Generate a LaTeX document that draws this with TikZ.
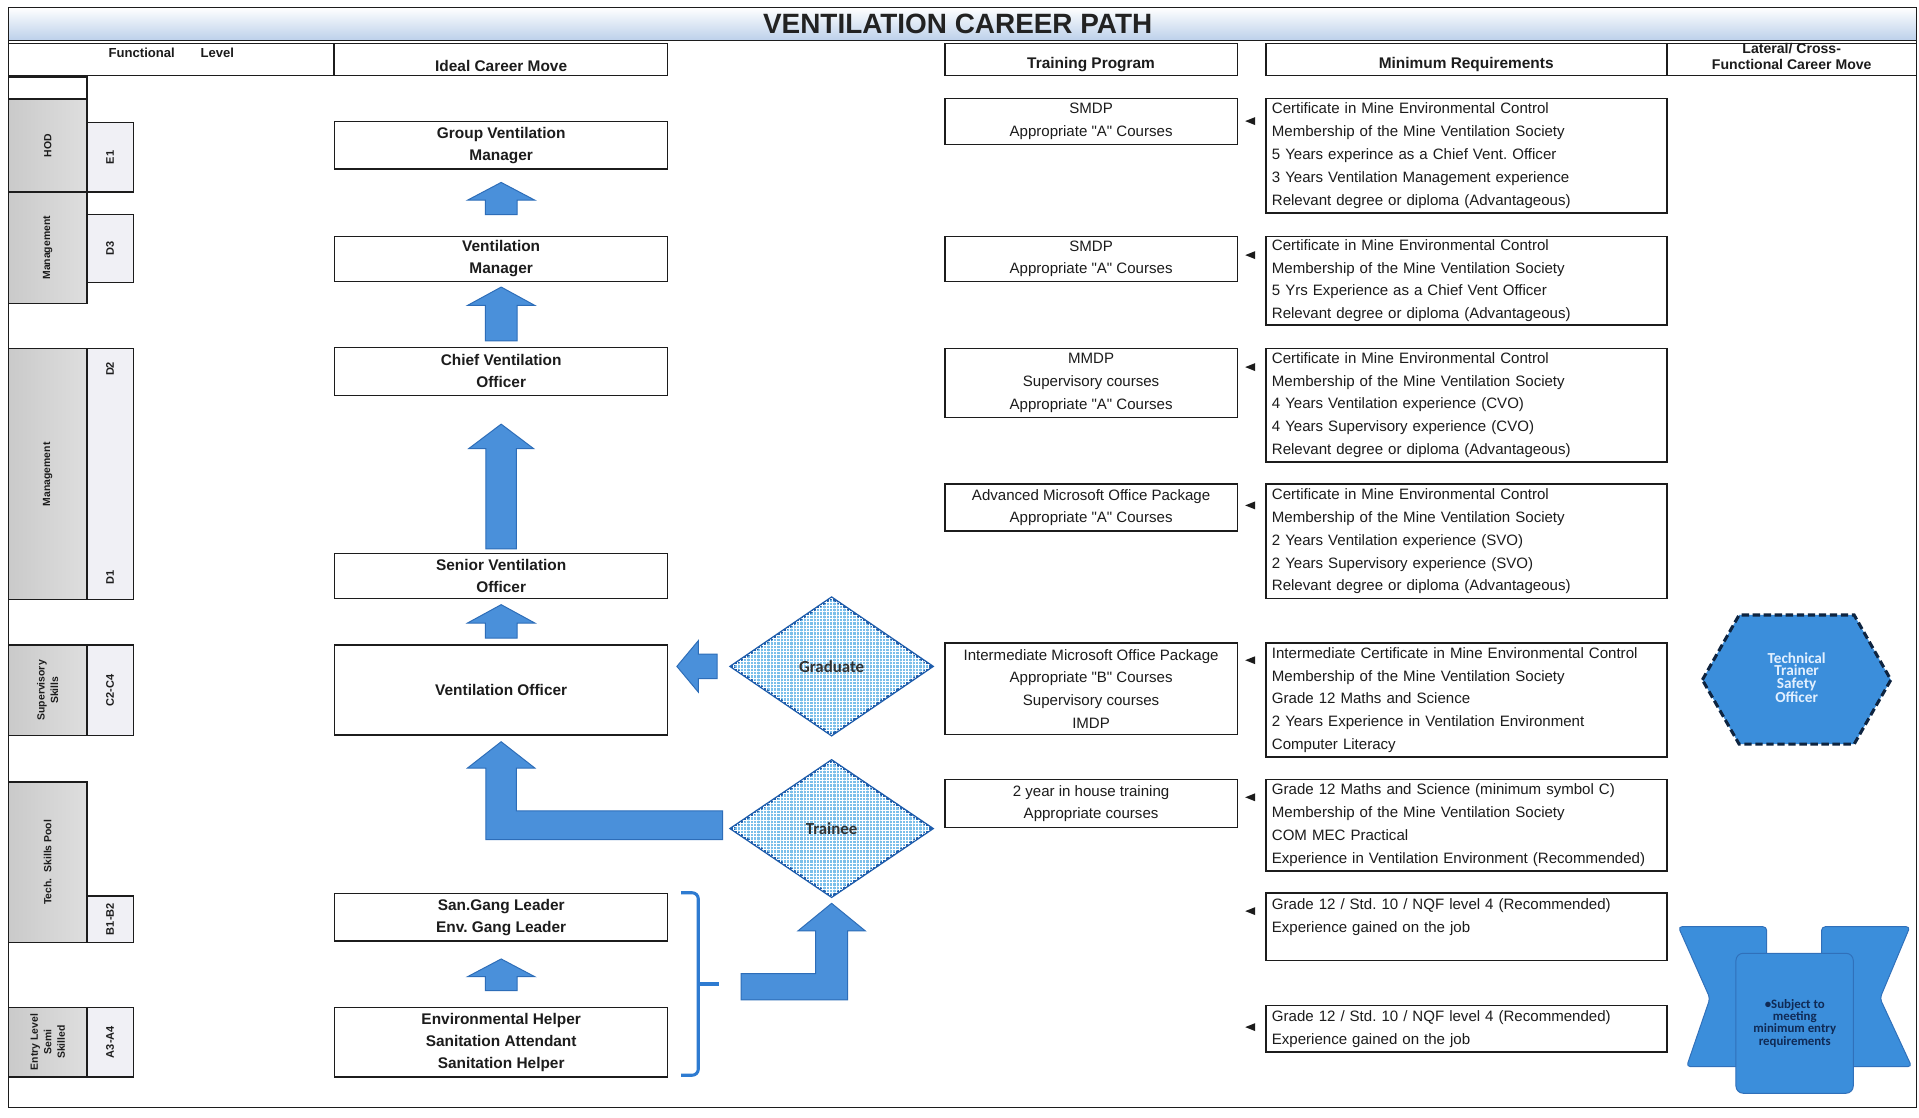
\documentclass[tikz,border=0pt]{standalone}
\usepackage{fontspec}
\setmainfont{Liberation Sans}
\newfontfamily\qfont{Liberation Sans}
\newfontfamily\shapefont{Carlito}
\usetikzlibrary{calc,shapes.geometric,patterns.meta}

\definecolor{ink}{HTML}{1C1C1C}
\definecolor{titleink}{HTML}{222222}
\definecolor{bandblue}{HTML}{BCD0EA}
\definecolor{greyL}{HTML}{CACACA}
\definecolor{greyR}{HTML}{DEDEDE}
\definecolor{levelfill}{HTML}{F0F0F5}
\definecolor{arrowblue}{HTML}{4A90DA}
\definecolor{arrowedge}{HTML}{2D6DB8}
\definecolor{diamondfill}{HTML}{7BBFEA}
\definecolor{diamondedge}{HTML}{1D5CAB}
\definecolor{shapeblue}{HTML}{3B8EDB}
\definecolor{shapeedge}{HTML}{3070BA}
\definecolor{navy}{HTML}{0E2440}
\definecolor{notenavy}{HTML}{102A55}
\definecolor{hexink}{HTML}{E2F0FF}
\definecolor{bracketblue}{HTML}{2E7BD1}
\definecolor{choiceink}{HTML}{333333}

% straight double quote, set without TeX ligature mapping
\newcommand\dq{{\qfont\symbol{34}}}

% rectangle node given by its corners: [options]{name}{x1}{y1}{x2}{y2}{text}
\newcommand\mkcell[7][]{%
  \node[#1, minimum width={(#5-#3)*1pt}, minimum height={(#6-#4)*1pt}] (#2) at ({(#3+#5)/2},{(#4+#6)/2}) {#7};}

% upward block arrow: tip, base, head length, head half width, shaft half width
\newcommand\blockup[5]{%
  \draw[blockarrow] (#1) -- ($(#1)+(#4,#3)$) -- ($(#1)+(#5,#3)$) -- ($(#1 |- #2)+(#5,0)$)
    -- ($(#1 |- #2)+(-#5,0)$) -- ($(#1)+(-#5,#3)$) -- ($(#1)+(-#4,#3)$) -- cycle;}

% small pointer left of a requirements box
\newcommand\reqmark[2]{\fill[ink] ($(#1.north west)+(-16.5,#2)$) -- ++(8,-3.2) -- ++(0,6.4) -- cycle;}

\newcommand\reqsize{\fontsize{12.3pt}{18.7pt}\selectfont}
\newcommand\tpsize{\fontsize{12.3pt}{18.5pt}\selectfont}
\newcommand\jobsize{\bfseries\fontsize{12.6pt}{18pt}\selectfont}
\newcommand\headsize{\bfseries\fontsize{12.6pt}{13pt}\selectfont}
\newcommand\lvlsize{\bfseries\fontsize{8.5pt}{11pt}\selectfont}
\newcommand\codesize{\bfseries\fontsize{9pt}{11pt}\selectfont}

\tikzset{
  frameline/.style={draw=ink, line width=1.3pt},
  plainbox/.style={draw=ink, line width=1.1pt, fill=white, inner sep=0pt},
  greycell/.style={draw=ink, line width=1.1pt, inner sep=0pt, left color=greyL, right color=greyR},
  levelcell/.style={plainbox, fill=levelfill},
  jobbox/.style={plainbox, align=center, font=\jobsize},
  tpbox/.style={plainbox, align=center, font=\tpsize},
  reqbox/.style={plainbox, align=left, font=\reqsize, text width=318pt},
  headtext/.style={font=\headsize, inner sep=0pt, align=center},
  lvltext/.style={font=\lvlsize, rotate=90, inner sep=0pt, align=center},
  codetext/.style={font=\codesize, rotate=90, inner sep=0pt},
  blockarrow/.style={fill=arrowblue, draw=arrowedge, line width=0.8pt, line join=miter},
  choice/.style={diamond, draw=diamondedge, line width=2.2pt, fill=diamondfill,
    postaction={pattern={Hatch[angle=0,distance=2.7pt,line width=0.5pt]}, pattern color=white},
    inner sep=0pt, font=\shapefont\bfseries\fontsize{13.8pt}{15pt}\selectfont, text=choiceink},
  bracket/.style={draw=bracketblue, line width=2.5pt, rounded corners=5pt},
  hexshape/.style={fill=shapeblue, draw=navy, line width=2.5pt, dash pattern=on 6pt off 3pt},
  hextext/.style={font=\shapefont\bfseries\fontsize{12.5pt}{10.2pt}\selectfont, text=hexink, align=center, inner sep=0pt},
  xshape/.style={fill=shapeblue, draw=shapeedge, line width=0.8pt, rounded corners=3pt},
  xtext/.style={font=\shapefont\bfseries\fontsize{10.5pt}{8.4pt}\selectfont, text=notenavy, align=center, inner sep=0pt}
}

\begin{document}
\frenchspacing
\begin{tikzpicture}[x=1pt, y=-1pt, every node/.style={text=ink}]
\useasboundingbox (0,0) rectangle (1568,913);
\fill[white] (0,0) rectangle (1568,913);

% title band and outer frame
\shade[top color=white, bottom color=bandblue] (7,6) rectangle (1566,33);
\draw[frameline] (7,6) rectangle (1566,905);
\draw[frameline] (7,33) -- (1566,33);
\node[font=\bfseries\fontsize{22.8pt}{24pt}\selectfont, text=titleink] (title) at (782.5,19.5) {VENTILATION CAREER PATH};

% column headers
\mkcell[plainbox]{flh}{7}{35.5}{273}{61.5}{}
\node[font=\bfseries\fontsize{10.7pt}{12pt}\selectfont, inner sep=0pt] (flt) at (140,43) {Functional\hspace{21pt}Level};
\mkcell[plainbox]{icm}{273}{35.5}{545.5}{61.5}{}
\node[headtext] (icmt) at (409.5,54) {Ideal Career Move};
\mkcell[plainbox]{tph}{772}{35.5}{1011}{61.5}{}
\node[headtext] (tpht) at (891.5,52.5) {Training Program};
\mkcell[plainbox]{mrh}{1034.5}{35.5}{1362}{61.5}{}
\node[headtext] (mrht) at (1198,53) {Minimum Requirements};
\mkcell[plainbox]{lat}{1362}{35.5}{1566}{61.5}{}
\node[headtext, font=\bfseries\fontsize{11.5pt}{13pt}\selectfont] (latt) at (1464,46.5) {Lateral/ Cross-\\Functional Career Move};

% functional levels
\mkcell[plainbox]{lv0}{7}{63}{71}{81}{}
\mkcell[greycell]{hod}{7}{81}{71}{157}{}
\mkcell[levelcell]{e1}{71}{100}{109}{157}{}
\mkcell[greycell]{mg1}{7}{157}{71}{248}{}
\mkcell[levelcell]{d3}{71}{175}{109}{231}{}
\mkcell[greycell]{mg2}{7}{285}{71}{490}{}
\mkcell[levelcell]{d21}{71}{285}{109}{490}{}
\mkcell[greycell]{sup}{7}{527}{71}{601}{}
\mkcell[levelcell]{c24}{71}{527}{109}{601}{}
\mkcell[greycell]{tsp}{7}{639}{71}{770}{}
\mkcell[levelcell]{b12}{71}{732}{109}{770}{}
\mkcell[greycell]{els}{7}{823}{71}{880}{}
\mkcell[levelcell]{a34}{71}{823}{109}{880}{}

\node[lvltext] (hodt) at (hod) {HOD};
\node[lvltext] (mg1t) at (mg1) {Management};
\node[lvltext] (mg2t) at (mg2) {Management};
\node[lvltext] (supt) at (sup) {Supervisory\\Skills};
\node[lvltext] (tspt) at (tsp) {Tech.\ \ Skills Pool};
\node[lvltext] (elst) at (els) {Entry Level\\Semi\\Skilled};
\node[codetext] (e1t) at (e1) {E1};
\node[codetext] (d3t) at (d3) {D3};
\node[codetext] (d2t) at ($(d21.north)+(0,17)$) {D2};
\node[codetext] (d1t) at ($(d21.south)+(0,-19)$) {D1};
\node[codetext] (c24t) at (c24) {C2-C4};
\node[codetext] (b12t) at (b12) {B1-B2};
\node[codetext] (a34t) at (a34) {A3-A4};

% ideal career moves
\mkcell[jobbox]{gvm}{273.5}{99.5}{545.5}{138}{Group Ventilation\\Manager}
\mkcell[jobbox]{vm}{273.5}{193}{545.5}{230}{Ventilation\\Manager}
\mkcell[jobbox]{cvo}{273.5}{284}{545.5}{323}{Chief Ventilation\\Officer}
\mkcell[jobbox]{svo}{273.5}{452}{545.5}{489}{Senior Ventilation\\Officer}
\mkcell[jobbox]{vo}{273.5}{527}{545.5}{600.5}{Ventilation Officer}
\mkcell[jobbox]{sgl}{273.5}{730}{545.5}{769}{San.Gang Leader\\Env. Gang Leader}
\mkcell[jobbox]{ent}{273.5}{823}{545.5}{880}{Environmental Helper\\Sanitation Attendant\\Sanitation Helper}

% training programmes
\mkcell[tpbox]{tp1}{772}{80.5}{1011}{118}{SMDP\\Appropriate \dq A\dq{} Courses}
\mkcell[tpbox]{tp2}{772}{193}{1011}{230}{SMDP\\Appropriate \dq A\dq{} Courses}
\mkcell[tpbox]{tp3}{772}{284.5}{1011}{341}{MMDP\\Supervisory courses\\Appropriate \dq A\dq{} Courses}
\mkcell[tpbox]{tp4}{772}{395.5}{1011}{434}{Advanced Microsoft Office Package\\Appropriate \dq A\dq{} Courses}
\mkcell[tpbox]{tp5}{772}{525.5}{1011}{600}{Intermediate Microsoft Office Package\\Appropriate \dq B\dq{} Courses\\Supervisory courses\\IMDP}
\mkcell[tpbox]{tp6}{772}{637}{1011}{676}{2 year in house training\\Appropriate courses}

% minimum requirements
\mkcell[reqbox]{r1}{1034.5}{80.5}{1362}{174}{Certificate in Mine Environmental Control\\Membership of the Mine Ventilation Society\\5 Years experince as a Chief Vent. Officer\\3 Years Ventilation Management experience\\Relevant degree or diploma (Advantageous)}
\mkcell[reqbox]{r2}{1034.5}{193}{1362}{265.5}{Certificate in Mine Environmental Control\\Membership of the Mine Ventilation Society\\5 Yrs Experience as a Chief Vent Officer\\Relevant degree or diploma (Advantageous)}
\mkcell[reqbox]{r3}{1034.5}{284.5}{1362}{377.5}{Certificate in Mine Environmental Control\\Membership of the Mine Ventilation Society\\4 Years Ventilation experience (CVO)\\4 Years Supervisory experience (CVO)\\Relevant degree or diploma (Advantageous)}
\mkcell[reqbox]{r4}{1034.5}{395.5}{1362}{489}{Certificate in Mine Environmental Control\\Membership of the Mine Ventilation Society\\2 Years Ventilation experience (SVO)\\2 Years Supervisory experience (SVO)\\Relevant degree or diploma (Advantageous)}
\mkcell[reqbox]{r5}{1034.5}{525.5}{1362}{618.5}{Intermediate Certificate in Mine Environmental Control\\Membership of the Mine Ventilation Society\\Grade 12 Maths and Science\\2 Years Experience in Ventilation Environment\\Computer Literacy}
\mkcell[reqbox]{r6}{1034.5}{636.7}{1362}{711.6}{Grade 12 Maths and Science (minimum symbol C)\\Membership of the Mine Ventilation Society\\COM MEC Practical\\Experience in Ventilation Environment (Recommended)}
\mkcell[reqbox]{r7}{1034.5}{729.6}{1362}{785}{Grade 12 / Std. 10 / NQF level 4 (Recommended)\\Experience gained on the job\\\mbox{}}
\mkcell[reqbox]{r8}{1034.5}{821.8}{1362}{859.5}{Grade 12 / Std. 10 / NQF level 4 (Recommended)\\Experience gained on the job}

\reqmark{r1}{19}
\reqmark{r2}{16}
\reqmark{r3}{16}
\reqmark{r4}{18}
\reqmark{r5}{14.5}
\reqmark{r6}{15.3}
\reqmark{r7}{15.4}
\reqmark{r8}{18}

% entry routes
\node[choice, minimum width=165pt, minimum height=113pt] (grad) at (679.5,544.5) {Graduate};
\node[choice, minimum width=165pt, minimum height=112pt] (trn) at (679.5,677) {Trainee};

% upward moves between career levels
\coordinate (a1t) at ($(gvm.south)+(0,10.5)$);
\coordinate (a1b) at ($(vm.north)+(0,-17)$);
\blockup{a1t}{a1b}{14.5}{27.5}{13}
\coordinate (a2t) at ($(vm.south)+(0,4)$);
\coordinate (a2b) at ($(cvo.north)+(0,-5)$);
\blockup{a2t}{a2b}{15}{27.5}{13}
\coordinate (a3t) at ($(cvo.south)+(0,23)$);
\coordinate (a3b) at ($(svo.north)+(0,-3)$);
\blockup{a3t}{a3b}{20}{26.5}{12.5}
\coordinate (a4t) at ($(svo.south)+(0,4.5)$);
\coordinate (a4b) at ($(vo.north)+(0,-5)$);
\blockup{a4t}{a4b}{15}{27.5}{13}
\coordinate (a6t) at ($(sgl.south)+(0,14)$);
\coordinate (a6b) at ($(ent.north)+(0,-13)$);
\blockup{a6t}{a6b}{14.5}{27.5}{13}

% Graduate -> Ventilation Officer
\coordinate (l3tip) at ($(vo.east |- grad.west)+(7,0)$);
\coordinate (l3end) at ($(grad.west)+(-10,0)$);
\draw[blockarrow] (l3tip) -- ++(17.5,-21) -- ++(0,11) -- ($(l3end)+(0,-10)$) -- ($(l3end)+(0,10)$)
  -- ($(l3tip)+(17.5,10)$) -- ($(l3tip)+(17.5,21)$) -- cycle;

% Trainee -> Ventilation Officer
\coordinate (l1tip) at ($(vo.south)+(0,5)$);
\coordinate (l1end) at ($(trn.west)+(-5.5,0)$);
\draw[blockarrow] (l1tip) -- ++(27.5,21.5) -- ++(-15,0) -- ($(l1tip |- l1end)+(12.5,-14.5)$)
  -- ($(l1end)+(0,-14.5)$) -- ($(l1end)+(0,9)$) -- ($(l1tip |- l1end)+(-12.5,9)$)
  -- ($(l1tip)+(-12.5,21.5)$) -- ($(l1tip)+(-27.5,21.5)$) -- cycle;

% entry-level group bracket
\coordinate (brtop) at ($(sgl.north east)+(10.5,0)$);
\coordinate (brbot) at ($(ent.south east)+(10.5,-2)$);
\coordinate (brmid) at ($(brtop)!0.5!(brbot)$);
\coordinate (brk) at ($(brmid)+(31,0)$);
\draw[bracket] (brtop) -- ++(14,0) -- ($(brbot)+(14,0)$) -- (brbot);
\draw[bracket, rounded corners=0pt] ($(brmid)+(14,0)$) -- (brk);

% entry-level group -> Trainee
\coordinate (l2tip) at ($(trn.south)+(0,4)$);
\coordinate (l2start) at ($(brk)+(18,2)$);
\draw[blockarrow] (l2tip) -- ++(27.5,22.5) -- ++(-14.5,0) -- ($(l2tip |- l2start)+(13,11)$)
  -- ($(l2start)+(0,11)$) -- ($(l2start)+(0,-10.5)$) -- ($(l2tip |- l2start)+(-13,-10.5)$)
  -- ($(l2tip)+(-13,22.5)$) -- ($(l2tip)+(-27.5,22.5)$) -- cycle;

% lateral move
\coordinate (hexc) at (1468,555.5);
\draw[hexshape] ($(hexc)+(-77,0)$) -- ($(hexc)+(-47,-53)$) -- ($(hexc)+(47,-53)$) -- ($(hexc)+(77,0)$)
  -- ($(hexc)+(47,52.5)$) -- ($(hexc)+(-47,52.5)$) -- cycle;
\node[hextext] (hex) at ($(hexc)+(0,-2)$) {Technical\\Trainer\\Safety\\Officer};

% entry condition note
\coordinate (xc) at (1466.5,825);
\draw[xshape] ($(xc)+(-95.2,-67.8)$) -- ($(xc)+(-23,-67.8)$) -- ($(xc)+(-23,46.5)$) -- ($(xc)+(-88.4,46.5)$)
  -- ($(xc)+(-69.3,-9.3)$) -- cycle;
\draw[xshape] ($(xc)+(21.9,-67.8)$) -- ($(xc)+(94.1,-67.8)$) -- ($(xc)+(69.6,-9.3)$) -- ($(xc)+(95.5,46.5)$)
  -- ($(xc)+(21.9,46.5)$) -- cycle;
\draw[xshape, rounded corners=6pt] ($(xc)+(-48.1,-46.1)$) rectangle ($(xc)+(47.8,68.3)$);
\node[xtext] (xnote) at ($(xc)+(0,11)$) {•Subject to\\meeting\\minimum entry\\requirements};
\end{tikzpicture}
\end{document}
